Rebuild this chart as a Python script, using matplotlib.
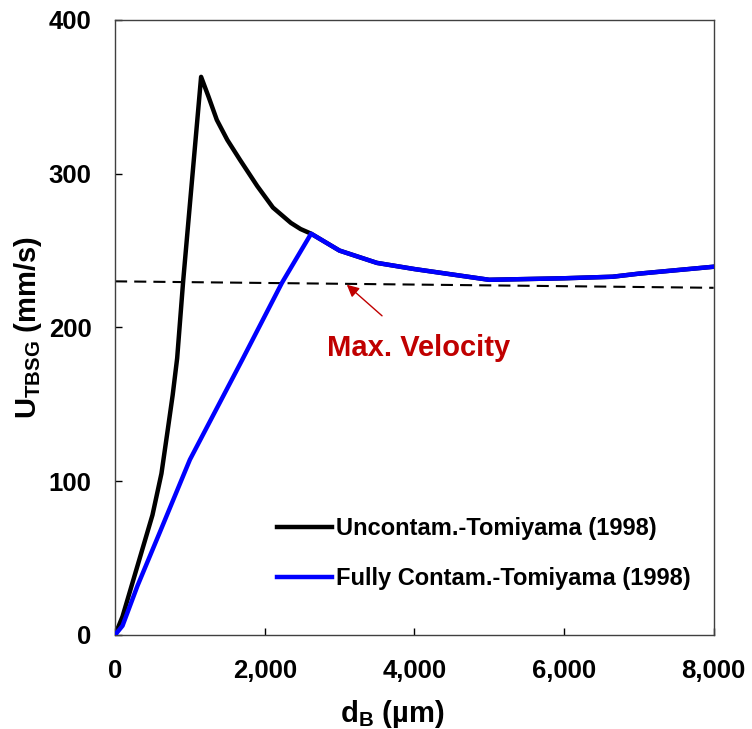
import matplotlib.pyplot as plt
from matplotlib.ticker import FuncFormatter

plt.rcParams["font.family"] = ["Liberation Sans", "DejaVu Sans"]
plt.rcParams["font.weight"] = "bold"
plt.rcParams["mathtext.default"] = "regular"

# diametro bolla (µm) e velocità terminale (mm/s)
d_pulita = [0, 100, 300, 500, 620, 700, 770, 830, 910, 1000, 1150, 1250, 1360, 1500, 1670, 1900,
            2110, 2230, 2350, 2480, 2620, 3000, 3500, 4000, 5000, 6000, 6650, 7000, 8000]
u_pulita = [0, 12, 45, 78, 105, 132, 156, 180, 230, 280, 363, 350, 335, 322, 309, 292,
            278, 273, 268, 264, 261, 250, 242, 238, 231, 232, 233, 235, 239.5]

d_contam = [0, 100, 300, 600, 1000, 1700, 2230, 2620,
            3000, 3500, 4000, 5000, 6000, 6650, 7000, 8000]
u_contam = [0, 6, 32, 67, 114, 179, 229, 261,
            250, 242, 238, 231, 232, 233, 235, 239.5]

d_massima = [0, 8000]
u_massima = [230, 225.8]

fig = plt.figure(figsize=(7.52, 7.29), dpi=100)
ax = fig.add_axes([0.153, 0.129, 0.796, 0.8436])

ax.plot(d_massima, u_massima, color="black", lw=1.5, ls=(0, (5.8, 3.4)), zorder=1)
ax.plot(d_pulita, u_pulita, color="black", lw=3.2, label="Uncontam.-Tomiyama (1998)", zorder=2)
ax.plot(d_contam, u_contam, color="#0000FF", lw=3.2, label="Fully Contam.-Tomiyama (1998)", zorder=3)

ax.annotate("Max. Velocity", xy=(3097, 227.8), xytext=(4059, 186.5),
            color="#C00000", fontsize=21, fontweight="bold", ha="center", va="center",
            arrowprops=dict(arrowstyle="-|>", color="#C00000", lw=1.0,
                            mutation_scale=18, shrinkA=17, shrinkB=0))

ax.set_xlim(0, 8000)
ax.set_ylim(0, 400)
ax.set_xticks([0, 2000, 4000, 6000, 8000])
ax.set_yticks([0, 100, 200, 300, 400])
ax.xaxis.set_major_formatter(FuncFormatter(lambda v, p: f"{int(v):,}"))
ax.tick_params(direction="in", length=5, width=1, labelsize=18.5, pad=17)
for lab in ax.get_xticklabels() + ax.get_yticklabels():
    lab.set_fontweight("bold")
for s in ax.spines.values():
    s.set_linewidth(1)
    s.set_color("#404040")

ax.set_xlabel(r"d$_\mathregular{B}$ (µm)", fontsize=21, fontweight="bold")
ax.set_ylabel(r"U$_\mathregular{TBSG}$ (mm/s)", fontsize=21, fontweight="bold")
ax.xaxis.set_label_coords(0.463, -0.102)
ax.yaxis.set_label_coords(-0.1185, 0.5)

ax.legend(loc="lower right", bbox_to_anchor=(0.962, 0.073), frameon=False, fontsize=17,
          borderpad=0, borderaxespad=0, handlelength=2.33, handletextpad=0.17,
          labelspacing=1.15)

fig.savefig("out.png", dpi=100)
